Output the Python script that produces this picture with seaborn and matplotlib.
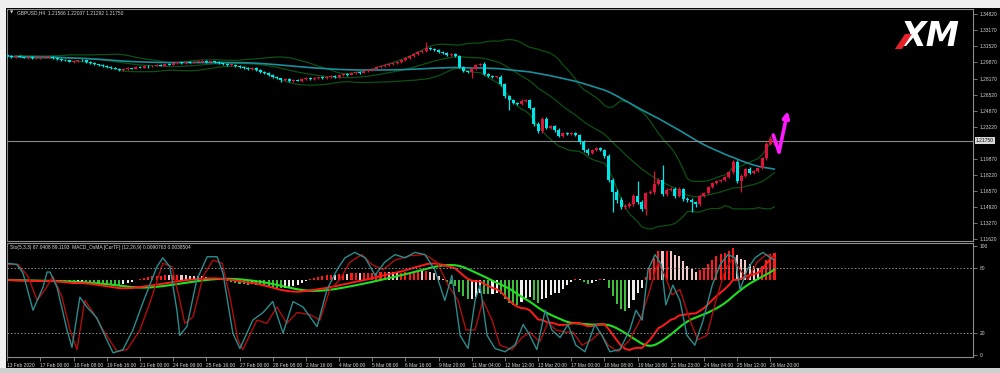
import numpy as np
import pandas as pd
import matplotlib
matplotlib.use("Agg")
import matplotlib.pyplot as plt
import seaborn as sns
from matplotlib.patches import Rectangle, Polygon

# ---- values ----
symbol = "GBPUSD,H4"
first_open = 1.3055
last_ohlc = [1.21566, 1.22037, 1.21292, 1.21750]   # current bar O H L C

# closes of the H4 bars 13 Feb 16:00 .. 26 Mar 20:00 (the current bar is last_ohlc)
closes = [
    1.3049, 1.3039, 1.3044, 1.3039, 1.3033, 1.3039, 1.3028, 1.3033, 1.3033, 1.3039,
    1.3044, 1.3028, 1.3018, 1.3008, 1.3003, 1.2992, 1.2997, 1.3008, 1.3003, 1.2987,
    1.2977, 1.2966, 1.2956, 1.2946, 1.2935, 1.2925, 1.2915, 1.2905, 1.2915, 1.2925,
    1.2920, 1.2935, 1.2930, 1.2946, 1.2941, 1.2946, 1.2956, 1.2951, 1.2966, 1.2961,
    1.2977, 1.2982, 1.2977, 1.2987, 1.2982, 1.2987, 1.2992, 1.2997, 1.2987, 1.2992,
    1.2987, 1.2977, 1.2966, 1.2956, 1.2961, 1.2946, 1.2935, 1.2930, 1.2915, 1.2925,
    1.2905, 1.2884, 1.2874, 1.2853, 1.2832, 1.2822, 1.2801, 1.2812, 1.2791, 1.2801,
    1.2796, 1.2812, 1.2822, 1.2812, 1.2822, 1.2827, 1.2822, 1.2832, 1.2843, 1.2832,
    1.2853, 1.2863, 1.2858, 1.2874, 1.2884, 1.2879, 1.2894, 1.2905, 1.2920, 1.2935,
    1.2946, 1.2956, 1.2966, 1.2977, 1.2987, 1.3008, 1.3028, 1.3049, 1.3070, 1.3090,
    1.3100, 1.3131, 1.3121, 1.3111, 1.3090, 1.3080, 1.3059, 1.3070, 1.3049, 1.2935,
    1.2894, 1.2884, 1.2915, 1.2956, 1.2966, 1.2863, 1.2843, 1.2832, 1.2837, 1.2760,
    1.2636, 1.2595, 1.2564, 1.2554, 1.2585, 1.2595, 1.2513, 1.2348, 1.2275, 1.2399,
    1.2306, 1.2327, 1.2286, 1.2224, 1.2255, 1.2245, 1.2255, 1.2234, 1.2162, 1.2079,
    1.2049, 1.2079, 1.2100, 1.2079, 1.2018, 1.1770, 1.1646, 1.1564, 1.1492, 1.1502,
    1.1523, 1.1605, 1.1543, 1.1471, 1.1636, 1.1646, 1.1729, 1.1770, 1.1626, 1.1667,
    1.1677, 1.1605, 1.1677, 1.1574, 1.1564, 1.1543, 1.1523, 1.1605, 1.1636, 1.1698,
    1.1739, 1.1760, 1.1770, 1.1802, 1.1853, 1.1956, 1.1760, 1.1812, 1.1884, 1.1843,
    1.1863, 1.1894, 1.1997, 1.2141, 1.2193,
]
# wick lengths in pips above / below the body
wick_hi = [
    8, 10, 6, 12, 5, 9, 7, 10, 6, 8,  9, 5, 11, 7, 6, 10, 8, 5, 12, 7,
    6, 9, 5, 8, 10, 7, 12, 6, 9, 8,  5, 10, 7, 9, 6, 11, 8, 6, 9, 7,
    10, 6, 8, 5, 9, 12, 7, 6, 10, 8,  9, 7, 5, 11, 6, 8, 10, 7, 9, 6,
    8, 12, 6, 9, 7, 10, 5, 14, 8, 9,  11, 6, 9, 7, 10, 8, 12, 6, 9, 7,
    8, 10, 6, 9, 12, 7, 8, 10, 6, 9,  10, 7, 12, 8, 9, 6, 11, 8, 10, 9,
    12, 62, 15, 10, 14, 9, 12, 8, 10, 15,  12, 10, 20, 14, 8, 18, 9, 12, 10, 15,
    14, 10, 12, 9, 16, 11, 14, 12, 20, 18,  25, 14, 12, 18, 10, 15, 12, 9, 14, 20,
    18, 15, 12, 10, 16, 25, 22, 30, 28, 20,  18, 25, 150, 20, 15, 25, 130, 20, 150, 22,
    18, 25, 20, 15, 22, 18, 14, 20, 12, 15,  10, 12, 14, 10, 15, 20, 25, 15, 12, 18,
    14, 10, 15, 20, 35,
]
wick_lo = [
    6, 9, 12, 5, 8, 10, 7, 6, 11, 8,  7, 12, 6, 9, 8, 5, 10, 9, 6, 11,
    8, 6, 10, 12, 7, 9, 5, 14, 8, 6,  10, 7, 9, 6, 12, 8, 5, 10, 7, 9,
    6, 11, 8, 9, 5, 10, 7, 12, 6, 8,  9, 6, 12, 8, 10, 7, 9, 11, 6, 10,
    12, 8, 10, 9, 14, 8, 16, 10, 9, 12,  8, 10, 7, 12, 9, 6, 10, 8, 11, 7,
    9, 7, 10, 8, 6, 12, 7, 9, 8, 10,  7, 9, 6, 10, 8, 12, 7, 9, 6, 8,
    10, 8, 12, 9, 7, 10, 8, 12, 9, 14,  10, 15, 60, 12, 10, 12, 8, 14, 10, 16,
    15, 105, 12, 14, 10, 9, 15, 18, 20, 15,  12, 14, 16, 12, 10, 14, 9, 12, 18, 15,
    16, 12, 14, 10, 20, 25, 210, 30, 25, 20,  18, 22, 20, 25, 65, 15, 18, 14, 20, 16,
    14, 18, 12, 20, 22, 100, 28, 16, 12, 14,  10, 12, 9, 11, 14, 18, 20, 110, 12, 15,
    12, 10, 14, 16, 12,
]

time_labels = [
    "13 Feb 2020", "17 Feb 00:00", "18 Feb 08:00", "19 Feb 16:00", "21 Feb 00:00",
    "24 Feb 08:00", "25 Feb 16:00", "27 Feb 00:00", "28 Feb 08:00", "2 Mar 16:00",
    "4 Mar 00:00", "5 Mar 08:00", "6 Mar 16:00", "9 Mar 20:00", "11 Mar 04:00",
    "12 Mar 12:00", "13 Mar 20:00", "17 Mar 00:00", "18 Mar 08:00", "19 Mar 16:00",
    "22 Mar 23:00", "24 Mar 04:00", "25 Mar 12:00", "26 Mar 20:00",
]
bars_per_label = 8

price_ticks = [1.34820, 1.33170, 1.31520, 1.29870, 1.28170, 1.26520, 1.24870,
               1.23220, 1.19870, 1.18220, 1.16570, 1.14920, 1.13270, 1.11620]

# Stochastic (5,3,3): main and signal, read at bar positions
stoch_k_at = [0, 2.3, 3.8, 6.2, 8.6, 9.6, 10.3, 12, 14.4, 15.6, 17.5, 19.2, 21.6, 24, 25.5,
              27.9, 30.3, 32.7, 36.1, 37.5, 39.2, 40.9, 41.6, 43.3, 45.7, 48.2, 50.6, 52,
              54.4, 56.1, 59.2, 61.7, 64, 66.5, 68.9, 71.3, 74.7, 77.1, 79.5, 81.4, 83.8,
              86.3, 88.7, 91, 93.5, 95.9, 98.3, 100.7, 103.1, 105.5, 107.2, 109.2, 111.1,
              112.8, 114, 115.7, 117.6, 120, 122.4, 124.4, 126, 127.7, 129.7, 131.3, 133.3,
              135.2, 137.1, 139.3, 141.7, 143.4, 145.3, 147.7, 150.1, 151.6, 153.1, 154.5,
              156.2, 157.7, 158.8, 160.5, 162.2, 163.9, 165.8, 167.8, 170, 171.9, 173.8,
              175.5, 176.7, 178.4, 180.3, 182.2, 184, 185]
stoch_k = [84, 83, 75, 41, 62, 76, 76, 62, 23, 7, 53, 44, 34, 14, 2, 5, 23, 48, 81, 89,
           81, 41, 18, 26, 69, 90, 90, 75, 20, 6, 32, 39, 49, 20, 49, 44, 26, 60, 78, 89,
           94, 89, 73, 85, 92, 89, 94, 92, 78, 50, 73, 18, 6, 50, 64, 18, 6, 3, 9, 28,
           18, 5, 41, 23, 16, 28, 9, 3, 28, 18, 3, 5, 23, 41, 32, 78, 92, 83, 46, 64,
           50, 18, 9, 32, 64, 83, 92, 89, 60, 78, 89, 94, 89, 87.0408]
stoch_d_at = [0.2, 2.6, 5.0, 7.2, 9.1, 11.0, 13.2, 15.1, 16.8, 18.7, 20.7, 23.1, 26.5, 28.9,
              32.0, 34.4, 37.5, 39.7, 41.6, 42.8, 44.8, 47.2, 49.6, 51.8, 53.7, 55.6, 56.8,
              60.2, 62.6, 65.0, 67.4, 69.9, 73.0, 75.4, 77.8, 80.2, 82.6, 85.5, 87.9, 90.6,
              93.5, 97.1, 100.7, 103.6, 106.3, 108.7, 110.6, 112.8, 114.7, 116.9, 118.8,
              121.7, 124.1, 126.0, 128.4, 130.4, 132.3, 134.5, 136.4, 138.6, 141.0, 142.9,
              144.9, 147.3, 150.1, 152.6, 155.0, 156.9, 158.6, 160.3, 162.2, 164.6, 166.5,
              168.7, 170.9, 173.1, 175.0, 176.7, 178.6, 180.8, 183.0, 185.0]
stoch_d = [83, 83, 72, 50, 60, 72, 53, 23, 5, 50, 39, 23, 3, 5, 23, 48, 84, 81, 50, 29,
           35, 72, 87, 84, 53, 14, 5, 32, 29, 44, 29, 39, 37, 32, 60, 69, 85, 92, 83, 78,
           87, 91, 92, 85, 64, 50, 23, 23, 50, 32, 9, 5, 16, 21, 12, 30, 23, 21, 21, 9,
           14, 21, 9, 3, 14, 32, 60, 85, 73, 55, 60, 32, 14, 18, 50, 78, 89, 78, 69, 85,
           92, 89.1193]
stoch_levels = [80, 20]
osma_values = [0.0090763, 0.0038504]

# hand drawn zigzag arrow (bar position, price)
arrow_at = [184.7, 186.1, 188.2]
arrow_price = [1.2234, 1.2059, 1.2482]

# ---- colours ----
BG = "black"
UP = "#dc143c"
DN = "#00e5e8"
TXT = "#d4d4d4"
GRID = "#8c8c8c"
FS = 3.5

sns.set_theme(style="dark")
plt.rcParams["font.family"] = ["Liberation Sans", "DejaVu Sans"]

W, H = 1000, 373
fig = plt.figure(figsize=(W / 100, H / 100), dpi=100, facecolor=BG)


def fx(x):
    return x / W


def fy(y):
    return 1 - y / H


ax = fig.add_axes([fx(7), fy(241), fx(973) - fx(7), fy(9) - fy(241)])
axl = fig.add_axes([fx(7), fy(357), fx(973) - fx(7), fy(243) - fy(357)])
axh = axl.twinx()
axm = axl.twinx()

# ---- candles ----
n = len(closes) + 1
idx = np.arange(n)
close = np.array(closes + [last_ohlc[3]])
opens = np.array([first_open] + closes[:-1] + [last_ohlc[0]])
top = np.maximum(opens, close)
bot = np.minimum(opens, close)
highs = np.append(top[:-1] + np.array(wick_hi) / 1e4, last_ohlc[1])
lows = np.append(bot[:-1] - np.array(wick_lo) / 1e4, last_ohlc[2])
col = np.where(close >= opens, UP, DN)

s = pd.Series(close)
ma = s.rolling(60, min_periods=1).mean()
mid = s.rolling(20, min_periods=3).mean()
sd = s.rolling(20, min_periods=3).std(ddof=0)

for band in (mid + 2 * sd, mid, mid - 2 * sd):
    sns.lineplot(x=idx, y=band.values, ax=ax, color="#0c5014", linewidth=0.9)
sns.lineplot(x=idx, y=ma.values, ax=ax, color="#1a8f9c", linewidth=1.2)

ax.vlines(idx, lows, highs, colors=col, linewidth=0.9, zorder=3)
ax.bar(idx, np.maximum(top - bot, 0.001), bottom=bot, width=0.72, color=col,
       linewidth=0, zorder=4)

ax.axhline(last_ohlc[3], color="#8a8a8a", linewidth=0.8, zorder=2)
ax.text(1.003, last_ohlc[3], f"{last_ohlc[3]:.5f}", transform=ax.get_yaxis_transform(),
        fontsize=FS, color="black", va="center", ha="left",
        bbox=dict(boxstyle="square,pad=0.25", fc="#d8d8d8", ec="none"))

ax.plot(arrow_at[:2], arrow_price[:2], color="#ff19ff", linewidth=2.6,
        solid_capstyle="round", zorder=6)
ax.annotate("", xy=(arrow_at[2], arrow_price[2]), xytext=(arrow_at[1], arrow_price[1]),
            arrowprops=dict(arrowstyle="-|>", color="#ff19ff", lw=2.6,
                            mutation_scale=9, shrinkA=0, shrinkB=0), zorder=6)

# ---- lower window: MACD_OsMA + Stochastic ----
ema12 = s.ewm(span=12, adjust=False).mean()
ema26 = s.ewm(span=26, adjust=False).mean()
macd = ema12 - ema26
signal = macd.rolling(9, min_periods=1).mean()
osma = macd - signal
rising = osma.diff().fillna(0) >= 0
hcol = np.where(osma >= 0, np.where(rising, "#ff1a1a", "#f3c8c8"),
                np.where(rising, "#eeeeee", "#3cc03c"))
axh.bar(idx, osma.values, width=0.5, color=hcol, linewidth=0)
sm = -macd.min() / 70
axm.set_ylim(-77 * sm, 37 * sm)
sh = osma.max() / 32
axh.set_ylim(-77 * sh, 37 * sh)
sns.lineplot(x=idx, y=signal.values, ax=axm, color="#1ee01e", linewidth=1.5)
sns.lineplot(x=idx, y=macd.values, ax=axm, color="#ff1a1a", linewidth=1.4)

sns.lineplot(x=stoch_d_at, y=stoch_d, ax=axl, color="#b00e0e", linewidth=1.0)
sns.lineplot(x=stoch_k_at, y=stoch_k, ax=axl, color="#2b8c8c", linewidth=1.0)
for lv in stoch_levels:
    axl.axhline(lv, color=GRID, linewidth=0.7, linestyle=(0, (1.5, 2)))

axl.set_zorder(3)
axm.set_zorder(2)
axh.set_zorder(1)

# ---- axes styling ----
xlim = (-0.07, 232.87)
for a in (ax, axl, axh, axm):
    a.set_xlim(*xlim)
    a.set_facecolor("none")
    a.grid(False)
    a.set_xlabel("")
    a.set_ylabel("")
    for sp in a.spines.values():
        sp.set_color(GRID)
        sp.set_linewidth(0.8)
for a in (axh, axm):
    a.set_yticks([])
    for sp in a.spines.values():
        sp.set_visible(False)

ax.set_ylim(1.1141, 1.3534)
ax.yaxis.tick_right()
ax.set_yticks(price_ticks)
ax.set_yticklabels([f"{p:.5f}" for p in price_ticks])
ax.set_xticks([])
ax.tick_params(axis="y", colors=GRID, labelcolor=TXT, labelsize=FS, length=3,
               width=0.6, pad=2, right=True, left=False)

axl.set_ylim(-1.8, 102.6)
axl.yaxis.tick_right()
axl.set_yticks([100, 80, 20, 0])
axl.set_yticklabels(["100", "80", "20", "0"])
axl.set_xticks(idx[::bars_per_label][:len(time_labels)])
axl.set_xticklabels(time_labels, ha="left")
axl.tick_params(axis="y", colors=GRID, labelcolor=TXT, labelsize=FS, length=3,
                width=0.6, pad=2, right=True, left=False)
axl.tick_params(axis="x", colors=GRID, labelcolor=TXT, labelsize=FS, length=3,
                width=0.6, pad=1.5, bottom=True)

# ---- header texts ----
fig.text(fx(10), fy(13), "\u25bc", color=TXT, fontsize=3, va="center",
         family=["DejaVu Sans"])
fig.text(fx(17), fy(13), f"{symbol}  " + " ".join(f"{v:.5f}" for v in last_ohlc),
         color=TXT, fontsize=FS, va="center")
fig.text(fx(10), fy(247),
         f"Sto(5,3,3) {stoch_k[-1]:.4f} {stoch_d[-1]:.4f}  MACD_OsMA [CurTF] (12,26,9) "
         f"{osma_values[0]:.7f} {osma_values[1]:.7f}",
         color=TXT, fontsize=FS, va="center")

# XM logo
fig.text(fx(930), fy(37), "XM", color="white", fontsize=24, fontweight="black",
         fontstyle="italic", ha="center", va="center", family=["DejaVu Sans"])
fig.patches.append(Polygon([(fx(895), fy(49)), (fx(902), fy(49)), (fx(912), fy(34)),
                            (fx(905), fy(34))], closed=True, transform=fig.transFigure,
                           fc="#e8202a", ec="none", zorder=5))

# window frame strips
fig.patches.append(Rectangle((0, fy(8)), 1, 1 - fy(8), transform=fig.transFigure,
                             fc="#f0f0f0", ec="none", zorder=5))
fig.patches.append(Rectangle((0, fy(368)), fx(6), fy(8) - fy(368), transform=fig.transFigure,
                             fc="#f0f0f0", ec="none", zorder=5))
fig.patches.append(Rectangle((0, 0), 1, fy(368), transform=fig.transFigure,
                             fc="#cfcfcf", ec="none", zorder=5))

fig.savefig("out.png", dpi=100, facecolor=BG)
